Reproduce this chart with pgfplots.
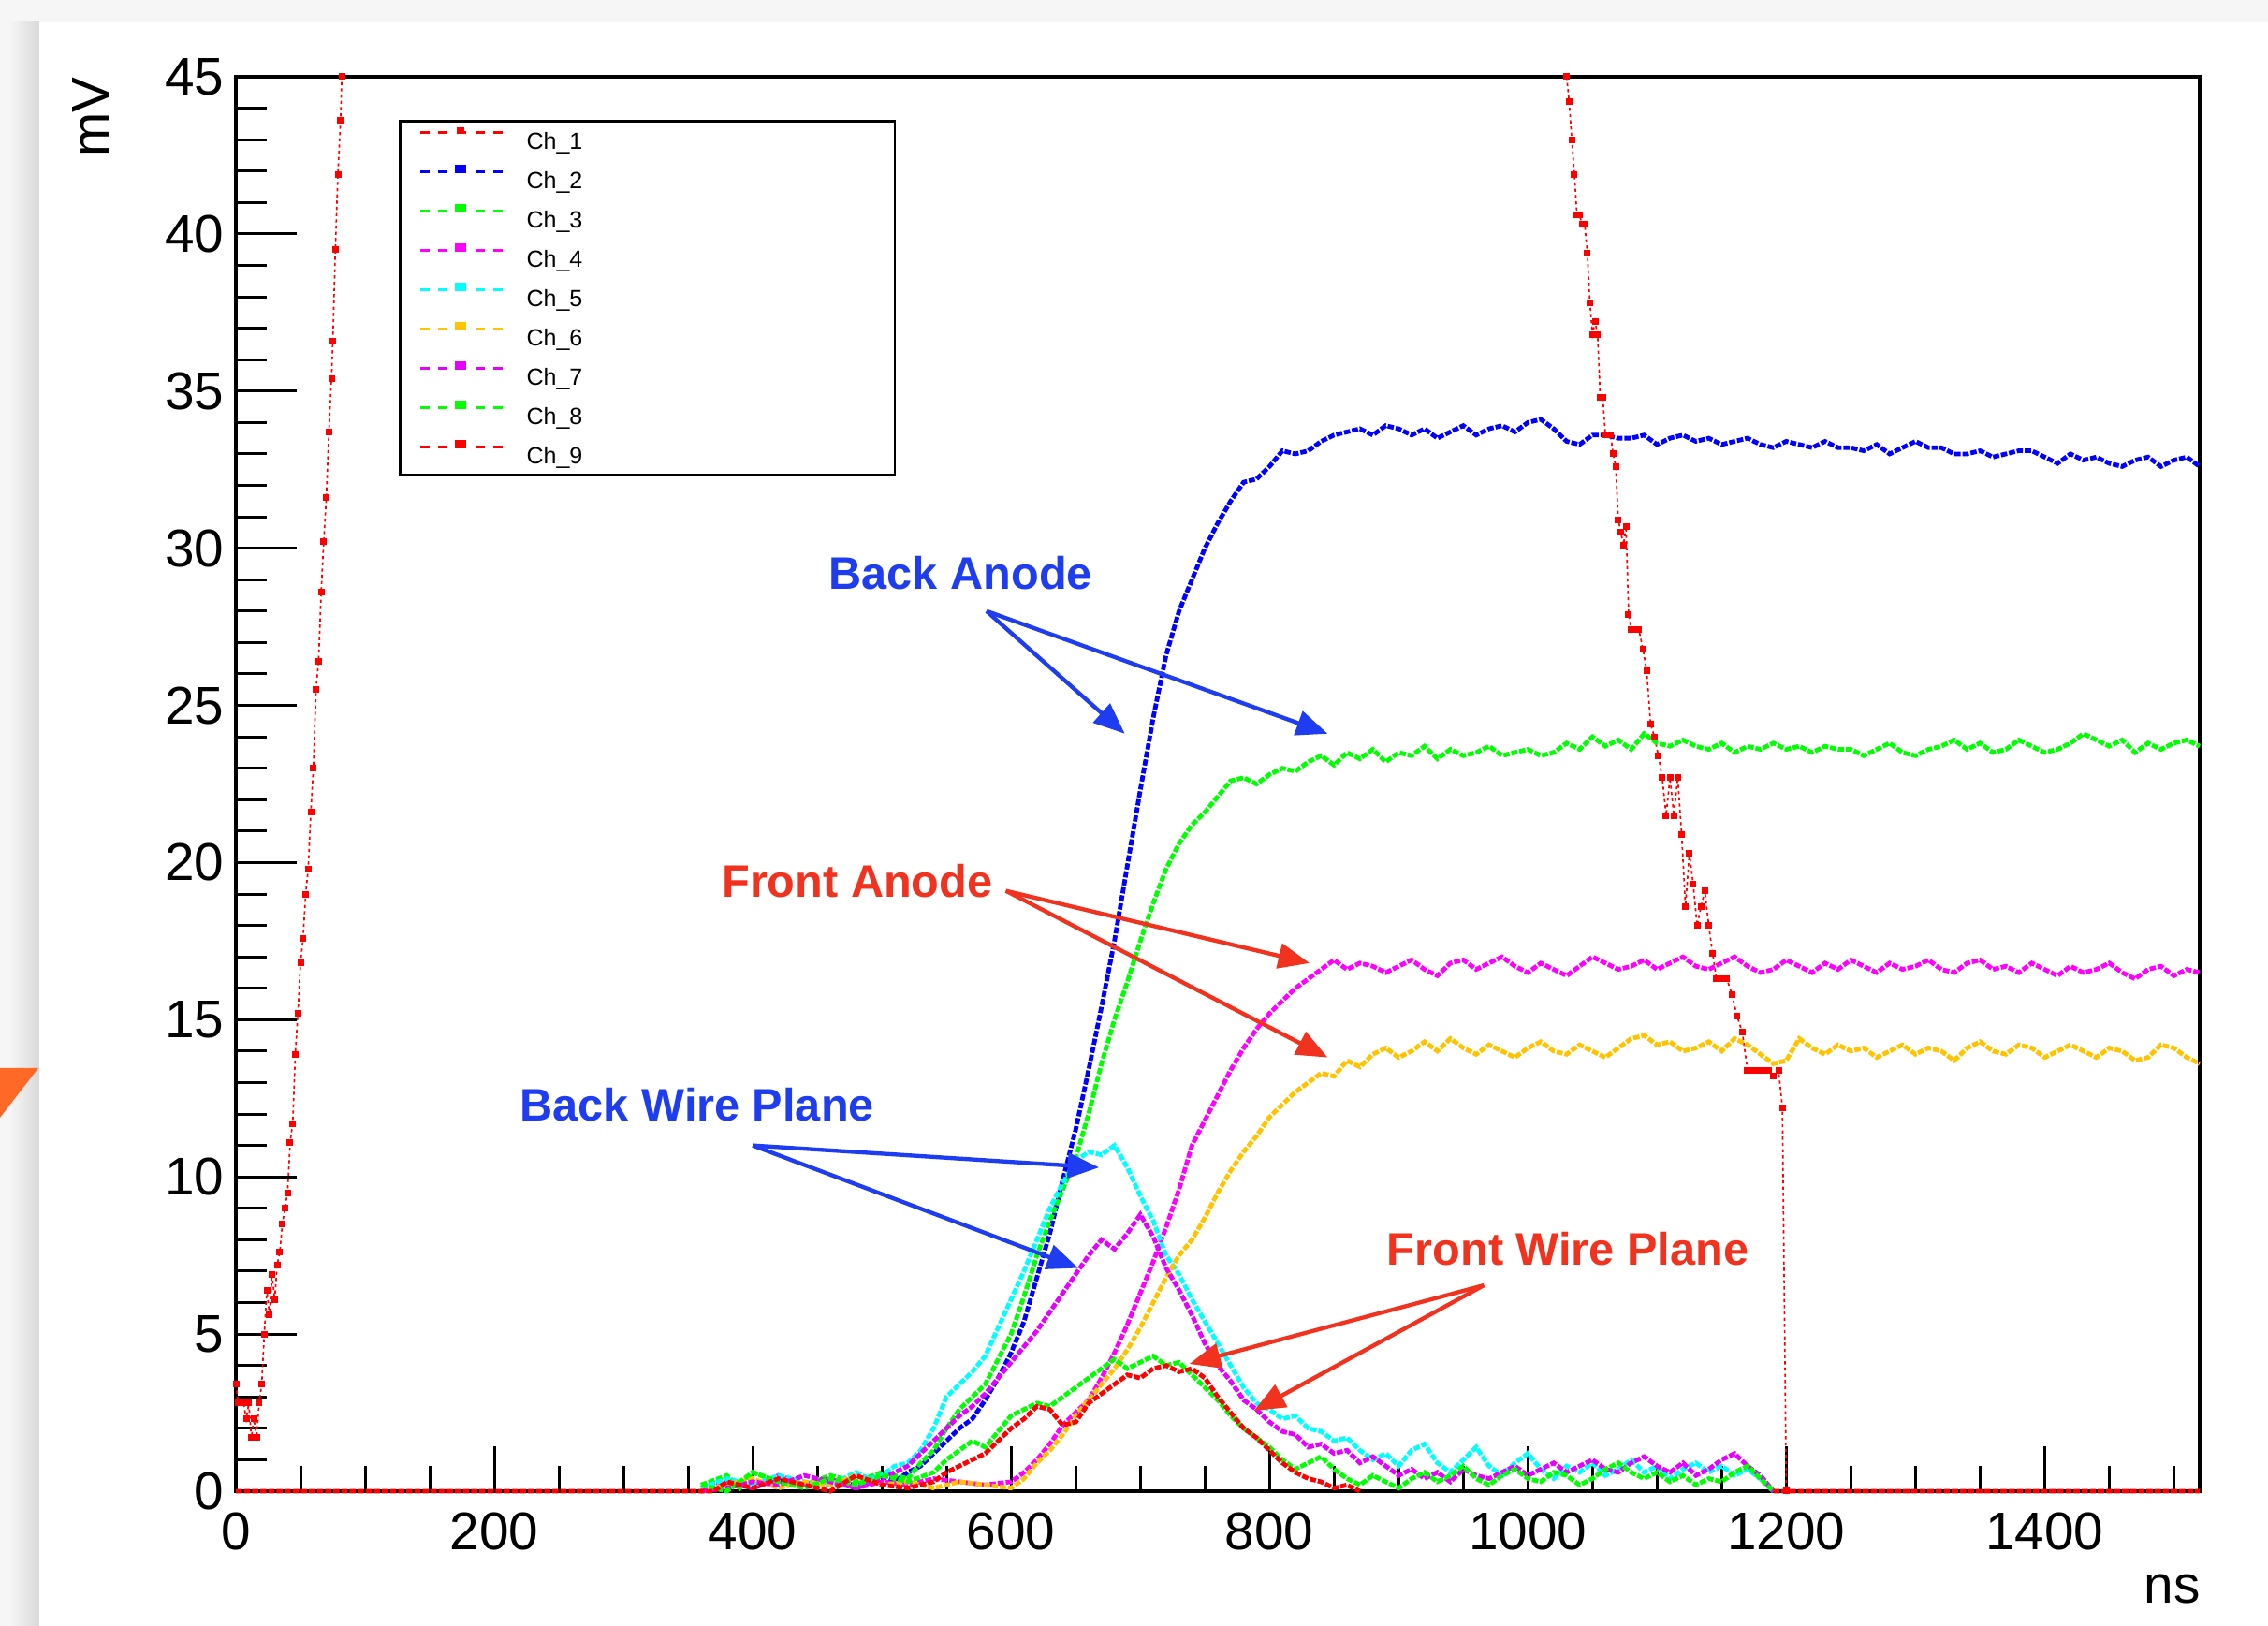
\documentclass[border=0pt]{standalone}
\usepackage{fontspec}
\setmainfont{Liberation Sans}
\usepackage{pgfplots}
\pgfplotsset{compat=1.18}
\usetikzlibrary{arrows.meta}
\definecolor{cRed}{RGB}{255,0,0}
\definecolor{cBlue}{RGB}{0,0,255}
\definecolor{cGreen}{RGB}{0,255,0}
\definecolor{cMag}{RGB}{255,0,255}
\definecolor{cCyan}{RGB}{0,255,255}
\definecolor{cOrange}{RGB}{255,195,0}
\definecolor{cViolet}{RGB}{230,0,255}
\definecolor{annBlue}{RGB}{30,60,240}
\definecolor{annRed}{RGB}{240,50,30}
\definecolor{triOrange}{RGB}{255,105,40}
\begin{document}
\begin{tikzpicture}
\fill[gray!7] (0,0) rectangle (726.9pt,521.1pt);
\shade[left color=gray!7, right color=gray!30] (3pt,0) rectangle (12.6pt,514.2pt);
\fill[white] (12.6pt,0) rectangle (726.9pt,514.2pt);
\fill[triOrange] (0,178.8pt) -- (12.3pt,178.8pt) -- (0,162.9pt) -- cycle;
\path[use as bounding box] (0,0) rectangle (726.9pt,521.1pt);

% x ticks
\begin{axis}[at={(75.6pt,43.2pt)}, anchor=south west, scale only axis,
  width=629.4pt, height=453.3pt,
  xmin=0, xmax=1520, ymin=0, ymax=45,
  axis x line*=bottom, axis y line=none,
  xtick={0,200,400,600,800,1000,1200,1400},
  xticklabels={0,200,400,600,800,1000,1200,1400},
  minor xtick={50,100,...,1500}, xtick align=inside,
  major tick length=14.4pt, minor tick length=8pt,
  tick style={line width=0.9pt, black}, axis line style={line width=1pt},
  ytick=\empty,
  xticklabel style={font=\fontsize{17}{20}\selectfont, inner sep=0pt, yshift=-6.6pt},
]
\addplot[draw=none] coordinates {(0,0)};
\end{axis}

\begin{axis}[at={(75.6pt,43.2pt)}, anchor=south west, scale only axis,
  width=629.4pt, height=453.3pt,
  xmin=0, xmax=1520, ymin=0, ymax=45,
  axis line style={line width=1pt},
  xtick=\empty, ytick={0,5,...,45}, minor ytick={1,2,...,44},
  ytick pos=left, tick align=inside,
  major tick length=19.5pt, minor tick length=10pt,
  tick style={line width=0.9pt, black},
  yticklabel style={font=\fontsize{17}{20}\selectfont, inner sep=0pt, xshift=-3.6pt},
  /pgf/number format/assume math mode=true,
  clip=false, unbounded coords=jump,
  every axis plot/.append style={line width=1.45pt, dash pattern=on 2pt off 0.6pt},
  legend cell align=left,
  legend style={at={(rel axis cs:0.0829,0.9696)}, anchor=north west, draw=black, line width=0.8pt,
    font=\fontsize{7.5}{9}\selectfont, inner xsep=6pt, inner ysep=0pt, row sep=0pt,
    nodes={inner sep=0pt, text height=9pt, text depth=3.6pt},
    /tikz/every odd column/.append style={column sep=7pt}},
  legend image code/.code={
    \draw[#1, line width=0.9pt, dash pattern=on 3pt off 2.9pt] (0pt,2.7pt) -- (26.7pt,2.7pt);
    \fill[#1, solid] (12pt,3.0pt) rectangle (14pt,4.0pt);
  },
]
% Ch_1
\addplot[color=cRed, line width=0.5pt, dash pattern=on 1pt off 1pt, mark=square*, mark size=0.8pt, mark options={solid}] coordinates {
(0,3.4)(2,2.8)(4,2.8)(6,2.8)(8,2.3)(10,2.8)(12,1.7)(14,2.3)(16,1.7)(18,2.8)(20,3.4)(22,5.0)(24,6.4)(26,5.6)(28,6.9)(30,6.1)(32,7.2)(34,7.6)(36,8.5)(38,9.0)(40,9.5)(42,11.1)(44,11.7)(46,13.9)(48,15.2)(50,16.8)(52,17.6)(54,19.0)(56,19.8)(58,21.6)(60,23.0)(62,25.5)(64,26.4)(66,28.6)(68,30.2)(70,31.6)(72,33.7)(74,35.4)(75,36.6)(77,39.5)(79,41.9)(81,43.6)(82,45)(500,nan)
(1030,45)(1032,44.2)(1034,43.0)(1036,41.9)(1038,40.6)(1040,40.6)(1042,40.3)(1044,40.3)(1046,39.4)(1048,37.8)(1050,36.8)(1052,37.2)(1054,36.8)(1056,34.8)(1058,34.8)(1060,33.6)(1062,33.6)(1064,33.6)(1066,33.0)(1068,32.6)(1070,30.9)(1072,30.5)(1074,30.1)(1076,30.7)(1078,27.9)(1080,27.4)(1083,27.4)(1086,27.4)(1089,26.8)(1092,26.1)(1095,24.4)(1098,24.0)(1101,23.4)(1104,22.7)(1107,21.5)(1110,22.7)(1113,21.5)(1116,22.7)(1119,20.9)(1122,18.6)(1125,20.3)(1128,19.3)(1131,18.0)(1134,18.6)(1137,19.1)(1140,18.0)(1143,17.1)(1146,16.3)(1150,16.3)(1154,16.3)(1158,15.8)(1162,15.1)(1166,14.6)(1170,13.4)(1174,13.4)(1178,13.4)(1182,13.4)(1186,13.4)(1190,13.2)(1194,13.4)(1197,12.2)(1200,0)
};
\addlegendentry{\makebox[112pt][l]{Ch\_1}}
% Ch_2
\addplot[color=cBlue] coordinates {
(360,0.1)(380,0.3)(400,0.1)(420,0.4)(440,0.2)(460,0.3)(480,0.2)(500,0.5)(510,0.3)(520,0.6)(530,0.8)(540,1.2)(550,1.6)(560,2.0)(570,2.3)(580,2.9)(590,3.6)(600,4.4)(610,5.4)(620,6.8)(630,8.2)(640,9.9)(650,11.5)(660,13.4)(670,15.4)(680,17.5)(690,19.9)(700,22.3)(710,24.6)(720,26.6)(730,28.0)(740,29.0)(750,30.0)(760,30.8)(770,31.5)(780,32.1)(790,32.2)(800,32.6)(810,33.1)(820,33.0)(830,33.1)(840,33.4)(850,33.6)(860,33.7)(870,33.8)(880,33.6)(890,33.9)(900,33.8)(910,33.6)(920,33.8)(930,33.5)(940,33.7)(950,33.9)(960,33.6)(970,33.8)(980,33.9)(990,33.7)(1000,34.0)(1010,34.1)(1020,33.8)(1030,33.4)(1040,33.3)(1050,33.6)(1060,33.6)(1070,33.5)(1080,33.5)(1090,33.6)(1100,33.3)(1110,33.5)(1120,33.6)(1130,33.4)(1140,33.5)(1150,33.3)(1160,33.4)(1170,33.5)(1180,33.3)(1190,33.2)(1200,33.4)(1210,33.3)(1220,33.2)(1230,33.4)(1240,33.2)(1250,33.2)(1260,33.1)(1270,33.3)(1280,33.0)(1290,33.2)(1300,33.4)(1310,33.2)(1320,33.2)(1330,33.0)(1340,33.0)(1350,33.1)(1360,32.9)(1370,33.0)(1380,33.1)(1390,33.1)(1400,32.9)(1410,32.7)(1420,33.0)(1430,32.8)(1440,32.9)(1450,32.7)(1460,32.6)(1470,32.8)(1480,32.9)(1490,32.6)(1500,32.8)(1510,32.9)(1520,32.6)
};
\addlegendentry{Ch\_2}
% Ch_3
\addplot[color=cGreen] coordinates {
(360,0.2)(380,0.5)(390,0.1)(400,0.6)(420,0.3)(440,0.2)(460,0.5)(480,0.3)(500,0.6)(520,0.4)(530,0.9)(540,1.3)(550,2.0)(560,2.6)(570,3.0)(580,3.4)(590,4.2)(600,5.0)(610,6.2)(620,7.5)(630,8.6)(640,9.6)(650,10.6)(660,12.0)(670,13.6)(680,15.0)(690,16.2)(700,17.5)(710,18.7)(720,19.8)(730,20.6)(740,21.2)(750,21.6)(760,22.1)(770,22.6)(780,22.7)(790,22.5)(800,22.8)(810,23.0)(820,22.9)(830,23.2)(840,23.4)(850,23.1)(860,23.5)(870,23.3)(880,23.6)(890,23.2)(900,23.5)(910,23.4)(920,23.7)(930,23.3)(940,23.6)(950,23.4)(960,23.5)(970,23.7)(980,23.4)(990,23.5)(1000,23.6)(1010,23.4)(1020,23.5)(1030,23.8)(1040,23.6)(1050,24.0)(1060,23.7)(1070,23.9)(1080,23.6)(1090,24.1)(1100,23.8)(1110,23.7)(1120,23.9)(1130,23.7)(1140,23.6)(1150,23.8)(1160,23.5)(1170,23.7)(1180,23.6)(1190,23.8)(1200,23.6)(1210,23.7)(1220,23.5)(1230,23.7)(1240,23.6)(1250,23.6)(1260,23.4)(1270,23.6)(1280,23.8)(1290,23.5)(1300,23.4)(1310,23.6)(1320,23.7)(1330,23.9)(1340,23.6)(1350,23.8)(1360,23.5)(1370,23.6)(1380,23.9)(1390,23.7)(1400,23.5)(1410,23.6)(1420,23.8)(1430,24.1)(1440,23.9)(1450,23.7)(1460,23.9)(1470,23.5)(1480,23.8)(1490,23.6)(1500,23.8)(1510,23.9)(1520,23.7)
};
\addlegendentry{Ch\_3}
% Ch_4
\addplot[color=cMag] coordinates {
(360,0.0)(380,0.3)(400,0.1)(420,0.5)(440,0.2)(460,0.4)(480,0.1)(500,0.3)(520,0.2)(540,0.4)(560,0.3)(580,0.2)(600,0.3)(610,0.6)(620,1.0)(630,1.5)(640,2.1)(650,2.5)(660,2.9)(670,3.6)(680,4.4)(690,5.3)(700,6.3)(710,7.3)(720,8.4)(730,9.6)(740,11.0)(750,11.8)(760,12.6)(770,13.4)(780,14.1)(790,14.7)(800,15.2)(810,15.6)(820,16.0)(830,16.3)(840,16.6)(850,16.9)(860,16.6)(870,16.8)(880,16.7)(890,16.5)(900,16.7)(910,16.9)(920,16.6)(930,16.4)(940,16.8)(950,16.9)(960,16.6)(970,16.8)(980,17.0)(990,16.7)(1000,16.5)(1010,16.8)(1020,16.6)(1030,16.4)(1040,16.7)(1050,17.0)(1060,16.8)(1070,16.6)(1080,16.7)(1090,16.9)(1100,16.6)(1110,16.8)(1120,17.0)(1130,16.7)(1140,16.6)(1150,16.8)(1160,17.0)(1170,16.7)(1180,16.5)(1190,16.6)(1200,16.9)(1210,16.7)(1220,16.5)(1230,16.8)(1240,16.6)(1250,16.9)(1260,16.7)(1270,16.5)(1280,16.8)(1290,16.6)(1300,16.7)(1310,16.9)(1320,16.6)(1330,16.5)(1340,16.8)(1350,16.9)(1360,16.6)(1370,16.7)(1380,16.5)(1390,16.8)(1400,16.6)(1410,16.4)(1420,16.7)(1430,16.5)(1440,16.6)(1450,16.8)(1460,16.5)(1470,16.3)(1480,16.6)(1490,16.7)(1500,16.4)(1510,16.6)(1520,16.5)
};
\addlegendentry{Ch\_4}
% Ch_5
\addplot[color=cCyan] coordinates {
(360,0.1)(380,0.4)(400,0.2)(420,0.5)(440,0.3)(460,0.2)(480,0.6)(490,0.4)(500,0.5)(510,0.8)(520,0.9)(530,1.3)(540,2.0)(550,3.0)(560,3.4)(570,3.8)(580,4.3)(590,5.2)(600,6.1)(610,7.0)(620,8.0)(630,9.0)(640,9.8)(650,10.5)(660,10.8)(670,10.7)(680,11.0)(690,10.3)(700,9.4)(710,8.6)(720,7.5)(730,6.9)(740,6.1)(750,5.4)(760,4.7)(770,4.0)(780,3.3)(790,2.8)(800,2.6)(810,2.3)(820,2.4)(830,2.0)(840,1.9)(850,1.6)(860,1.7)(870,1.3)(880,1.0)(890,1.2)(900,0.8)(910,1.3)(920,1.5)(930,0.9)(940,0.6)(950,1.0)(960,1.4)(970,0.8)(980,0.5)(990,0.9)(1000,1.2)(1010,0.7)(1020,0.4)(1030,0.8)(1040,0.6)(1050,0.9)(1060,0.5)(1070,0.7)(1080,1.0)(1090,0.6)(1100,0.8)(1110,0.4)(1120,0.7)(1130,0.9)(1140,0.6)(1150,0.8)(1160,0.5)(1170,0.7)(1180,0.4)(1190,0.0)
};
\addlegendentry{Ch\_5}
% Ch_6
\addplot[color=cOrange] coordinates {
(360,0.0)(380,0.2)(400,0.4)(420,0.1)(440,0.3)(460,0.2)(480,0.5)(500,0.2)(520,0.3)(540,0.1)(560,0.3)(580,0.2)(600,0.1)(610,0.4)(620,0.9)(630,1.3)(640,1.8)(650,2.4)(660,2.9)(670,3.4)(680,3.9)(690,4.5)(700,5.2)(710,6.0)(720,6.8)(730,7.5)(740,8.0)(750,8.7)(760,9.5)(770,10.2)(780,10.8)(790,11.3)(800,11.9)(810,12.3)(820,12.7)(830,13.0)(840,13.3)(850,13.2)(860,13.7)(870,13.5)(880,13.9)(890,14.1)(900,13.8)(910,14.0)(920,14.3)(930,14.0)(940,14.4)(950,14.1)(960,13.9)(970,14.2)(980,14.0)(990,13.8)(1000,14.1)(1010,14.3)(1020,14.0)(1030,13.9)(1040,14.2)(1050,14.0)(1060,13.8)(1070,14.1)(1080,14.4)(1090,14.5)(1100,14.2)(1110,14.3)(1120,14.0)(1130,14.1)(1140,14.3)(1150,14.0)(1160,14.4)(1170,14.2)(1180,13.9)(1190,13.6)(1200,13.7)(1210,14.4)(1220,14.1)(1230,13.9)(1240,14.2)(1250,14.0)(1260,14.1)(1270,13.8)(1280,14.0)(1290,14.2)(1300,13.9)(1310,14.1)(1320,14.0)(1330,13.7)(1340,14.1)(1350,14.3)(1360,14.0)(1370,13.9)(1380,14.2)(1390,14.1)(1400,13.8)(1410,14.0)(1420,14.2)(1430,14.0)(1440,13.8)(1450,14.1)(1460,14.0)(1470,13.7)(1480,13.8)(1490,14.2)(1500,14.1)(1510,13.8)(1520,13.6)
};
\addlegendentry{Ch\_6}
% Ch_7
\addplot[color=cViolet] coordinates {
(360,0.0)(380,0.1)(400,0.3)(420,0.2)(440,0.5)(460,0.3)(480,0.1)(500,0.4)(510,0.6)(520,0.8)(530,1.2)(540,1.6)(550,2.0)(560,2.4)(570,2.7)(580,3.1)(590,3.6)(600,4.1)(610,4.6)(620,5.1)(630,5.7)(640,6.3)(650,6.9)(660,7.5)(670,8.0)(680,7.7)(690,8.2)(700,8.8)(710,8.1)(720,7.1)(730,6.4)(740,5.6)(750,4.7)(760,4.0)(770,3.5)(780,2.9)(790,2.6)(800,2.2)(810,1.9)(820,1.8)(830,1.4)(840,1.5)(850,1.2)(860,1.3)(870,0.9)(880,1.1)(890,0.8)(900,0.5)(910,0.7)(920,0.4)(930,0.6)(940,0.3)(950,0.7)(960,0.5)(970,0.4)(980,0.6)(990,0.8)(1000,0.5)(1010,0.7)(1020,0.9)(1030,0.6)(1040,0.8)(1050,1.0)(1060,0.7)(1070,0.6)(1080,0.9)(1090,1.1)(1100,0.8)(1110,0.6)(1120,0.9)(1130,0.5)(1140,0.7)(1150,1.0)(1160,1.2)(1170,0.8)(1180,0.5)(1190,0.0)
};
\addlegendentry{Ch\_7}
% Ch_8
\addplot[color=cGreen] coordinates {
(360,0.2)(380,0.0)(400,0.6)(420,0.3)(440,0.1)(460,0.4)(480,0.2)(500,0.5)(520,0.3)(540,0.6)(550,1.0)(560,1.3)(570,1.6)(580,1.4)(590,1.9)(600,2.4)(610,2.6)(620,2.8)(630,2.7)(640,3.0)(650,3.3)(660,3.6)(670,3.9)(680,4.2)(690,3.9)(700,4.1)(710,4.3)(720,4.0)(730,4.1)(740,3.7)(750,3.3)(760,2.9)(770,2.4)(780,2.0)(790,1.7)(800,1.4)(810,1.0)(820,0.7)(830,0.9)(840,1.1)(850,0.7)(860,0.4)(870,0.2)(880,0.5)(890,0.3)(900,0.1)(910,0.4)(920,0.6)(930,0.3)(940,0.5)(950,0.8)(960,0.4)(970,0.2)(980,0.5)(990,0.7)(1000,0.4)(1010,0.3)(1020,0.6)(1030,0.5)(1040,0.2)(1050,0.4)(1060,0.7)(1070,0.9)(1080,0.6)(1090,0.4)(1100,0.6)(1110,0.3)(1120,0.5)(1130,0.2)(1140,0.4)(1150,0.3)(1160,0.6)(1170,0.8)(1180,0.4)(1190,0.0)
};
\addlegendentry{Ch\_8}
% Ch_9
\addplot[color=cRed] coordinates {
(0,0)(370,0)(380,0.3)(400,0.1)(420,0.4)(440,0.2)(460,0.0)(480,0.5)(500,0.2)(520,0.1)(540,0.3)(550,0.6)(560,0.8)(570,1.0)(580,1.2)(590,1.6)(600,2.0)(610,2.3)(620,2.7)(630,2.6)(640,2.1)(650,2.2)(660,2.8)(670,3.1)(680,3.4)(690,3.7)(700,3.6)(710,3.9)(720,4.0)(730,3.8)(740,3.9)(750,3.6)(760,3.0)(770,2.5)(780,2.0)(790,1.7)(800,1.3)(810,0.9)(820,0.6)(830,0.4)(840,0.3)(850,0.1)(860,0.2)(870,0.0)(880,nan)(1190,0)(1520,0)
};
\addlegendentry{Ch\_9}

% annotations
\node[annBlue, font=\bfseries\fontsize{14.6}{17}\selectfont] at (axis cs:561,29.2) {Back Anode};
\draw[annBlue, line width=1.3pt, -{Triangle[length=10pt,width=8pt]}] (axis cs:581,28.0) -- (axis cs:688,24.1);
\draw[annBlue, line width=1.3pt, -{Triangle[length=10pt,width=8pt]}] (axis cs:581,28.0) -- (axis cs:845,24.1);
\node[annRed, font=\bfseries\fontsize{14.6}{17}\selectfont] at (axis cs:481,19.4) {Front Anode};
\draw[annRed, line width=1.3pt, -{Triangle[length=10pt,width=8pt]}] (axis cs:596,19.1) -- (axis cs:831,16.8);
\draw[annRed, line width=1.3pt, -{Triangle[length=10pt,width=8pt]}] (axis cs:596,19.1) -- (axis cs:845,13.8);
\node[annBlue, font=\bfseries\fontsize{14.6}{17}\selectfont] at (axis cs:357,12.3) {Back Wire Plane};
\draw[annBlue, line width=1.3pt, -{Triangle[length=10pt,width=8pt]}] (axis cs:400,11.0) -- (axis cs:668,10.3);
\draw[annBlue, line width=1.3pt, -{Triangle[length=10pt,width=8pt]}] (axis cs:400,11.0) -- (axis cs:652,7.1);
\node[annRed, font=\bfseries\fontsize{14.6}{17}\selectfont] at (axis cs:1031,7.7) {Front Wire Plane};
\draw[annRed, line width=1.3pt, -{Triangle[length=10pt,width=8pt]}] (axis cs:966,6.55) -- (axis cs:738,4.05);
\draw[annRed, line width=1.3pt, -{Triangle[length=10pt,width=8pt]}] (axis cs:966,6.55) -- (axis cs:788,2.56);
\end{axis}

\node[rotate=90, font=\fontsize{17}{20}\selectfont] at (29.1pt,483.6pt) {mV};
\node[anchor=base east, inner sep=0pt, font=\fontsize{17}{20}\selectfont] at (705.3pt,7.2pt) {ns};
\end{tikzpicture}
\end{document}
